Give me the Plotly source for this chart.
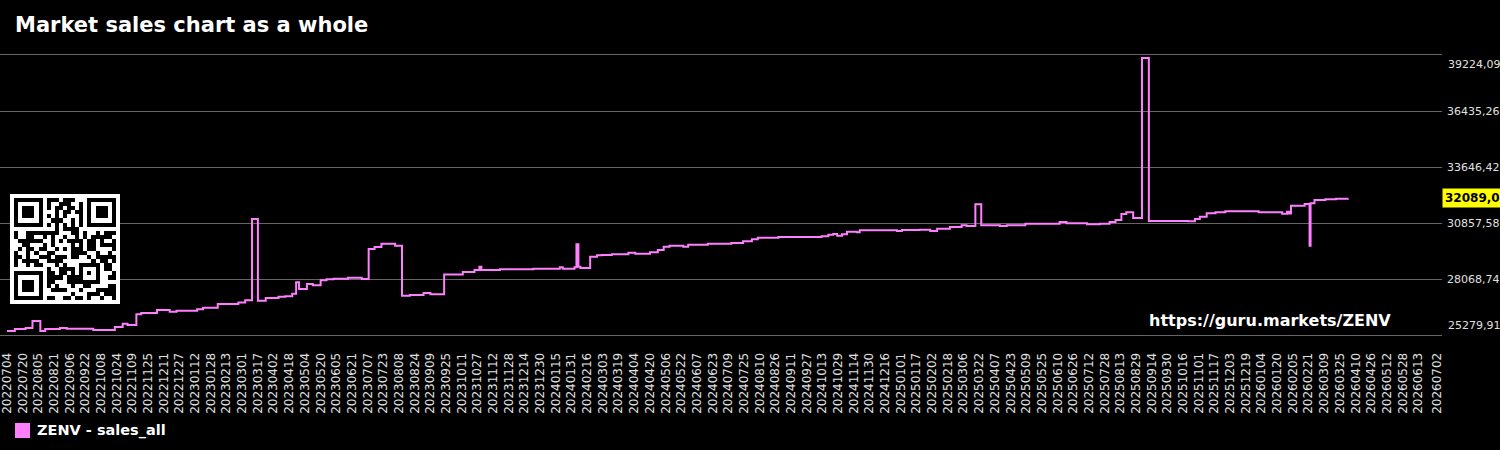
import pandas as pd
import plotly.graph_objects as go

# ---------------- data ----------------
TITLE = "Market sales chart as a whole"
SERIES_NAME = "ZENV - sales_all"
URL_TEXT = "https://guru.markets/ZENV"

dates = [
    "2022-07-04", "2022-07-12", "2022-07-23", "2022-07-30", "2022-08-07", "2022-08-12",
    "2022-08-27", "2022-09-03", "2022-09-30", "2022-10-22", "2022-10-30", "2022-11-04",
    "2022-11-13", "2022-11-18", "2022-12-04", "2022-12-17", "2022-12-24", "2023-01-14",
    "2023-01-20", "2023-02-04", "2023-02-25", "2023-03-04", "2023-03-11", "2023-03-17",
    "2023-03-25", "2023-04-07", "2023-04-14", "2023-04-21", "2023-04-25", "2023-04-28",
    "2023-05-06", "2023-05-12", "2023-05-20", "2023-05-26", "2023-06-02", "2023-06-17",
    "2023-07-01", "2023-07-08", "2023-07-14", "2023-07-21", "2023-08-04", "2023-08-11",
    "2023-08-19", "2023-09-02", "2023-09-09", "2023-09-23", "2023-10-12", "2023-10-24",
    "2023-10-29", "2023-10-31", "2023-11-19", "2023-12-23", "2024-01-19", "2024-01-22",
    "2024-02-03", "2024-02-05", "2024-02-07", "2024-02-09", "2024-02-19", "2024-02-26",
    "2024-03-02", "2024-03-12", "2024-03-29", "2024-04-05", "2024-04-20", "2024-04-28",
    "2024-05-04", "2024-05-10", "2024-05-24", "2024-05-29", "2024-06-18", "2024-07-12",
    "2024-07-24", "2024-08-02", "2024-08-08", "2024-08-29", "2024-10-12", "2024-10-19",
    "2024-10-24", "2024-10-28", "2024-11-02", "2024-11-07", "2024-11-17", "2024-11-20",
    "2024-12-28", "2025-01-02", "2025-01-20", "2025-01-31", "2025-02-07", "2025-02-20",
    "2025-03-04", "2025-03-09", "2025-03-18", "2025-03-24", "2025-04-12", "2025-04-19",
    "2025-05-08", "2025-06-12", "2025-06-19", "2025-07-10", "2025-07-23", "2025-08-02",
    "2025-08-08", "2025-08-14", "2025-08-19", "2025-08-26", "2025-09-04", "2025-09-11",
    "2025-10-21", "2025-10-28", "2025-11-02", "2025-11-09", "2025-11-18", "2025-11-28",
    "2026-01-01", "2026-01-25", "2026-01-30", "2026-02-01", "2026-02-03", "2026-02-17",
    "2026-02-22", "2026-02-23", "2026-02-27", "2026-03-10", "2026-03-21", "2026-04-02",
]
sales = [
    25479, 25579, 25628, 25977, 25479, 25579,
    25628, 25590, 25530, 25678, 25842, 25778,
    26311, 26375, 26525, 26440, 26490, 26560,
    26640, 26824, 26900, 27007, 31057, 26988,
    27122, 27187, 27207, 27337, 27904, 27571,
    27820, 27755, 28004, 28054, 28084, 28133,
    28068, 29563, 29662, 29826, 29727, 27237,
    27272, 27371, 27306, 28290, 28417, 28517,
    28681, 28517, 28550, 28580, 28650, 28580,
    28650, 29797, 28681, 28616, 29179, 29248,
    29260, 29298, 29378, 29328, 29398, 29512,
    29677, 29727, 29677, 29777, 29827, 29862,
    29946, 30045, 30125, 30160, 30195, 30274,
    30309, 30224, 30294, 30424, 30394, 30494,
    30459, 30509, 30524, 30459, 30574, 30658,
    30742, 30708, 31788, 30742, 30708, 30742,
    30822, 30907, 30842, 30792, 30822, 30907,
    31007, 31305, 31390, 31107, 39074, 30960,
    30942, 31057, 31172, 31340, 31390, 31440,
    31390, 31320, 31420, 31330, 31719, 31803,
    29727, 31838, 32002, 32040, 32070, 32089.04,
]

y_ticks = [25279.91, 28068.74, 30857.58, 33646.42, 36435.26, 39224.09]
y_tick_labels = ["25279,91", "28068,74", "30857,58", "33646,42", "36435,26", "39224,09"]

x_first_date = "2022-07-04"
x_last_date = "2026-07-02"
x_tick_dates = list(pd.date_range(x_first_date, "2026-06-13", freq="16D").strftime("%Y-%m-%d")) + [x_last_date]
x_tick_labels = [d.replace("-", "") for d in x_tick_dates]

last_value_label = f"{sales[-1]:.2f}".replace(".", ",")

# ---------------- style ----------------
FONT = "DejaVu Sans"
LINE_COLOR = "#ff80ff"
GRID_COLOR = "#666666"
TICK_COLOR = "#e0e0e0"
W, H = 1500, 450
M_L, M_R, M_T, M_B = 0, 58, 55, 115
PW, PH = W - M_L - M_R, H - M_T - M_B
PX_PER_DAY = 0.9801


def px_x(px):
    return (px - M_L) / PW


def px_y(py):
    return (H - M_B - py) / PH


x_start = pd.Timestamp(x_first_date) - pd.Timedelta(days=7 / PX_PER_DAY)
x_end = pd.Timestamp(x_last_date) + pd.Timedelta(days=5 / PX_PER_DAY)


# ---------------- QR code (version 2, ECC M) ----------------
def qr_matrix(text):
    data = text.encode("utf-8")
    N = 25
    n_data, n_ec = 28, 16
    bits = []

    def add(val, n):
        for i in range(n - 1, -1, -1):
            bits.append((val >> i) & 1)

    add(0b0100, 4)
    add(len(data), 8)
    for b in data:
        add(b, 8)
    cap = n_data * 8
    add(0, min(4, cap - len(bits)))
    while len(bits) % 8:
        bits.append(0)
    cw = [int("".join(map(str, bits[i:i + 8])), 2) for i in range(0, len(bits), 8)]
    pads = [0xEC, 0x11]
    k = 0
    while len(cw) < n_data:
        cw.append(pads[k % 2])
        k += 1

    exp = [0] * 512
    log = [0] * 256
    v = 1
    for i in range(255):
        exp[i] = v
        log[v] = i
        v <<= 1
        if v & 0x100:
            v ^= 0x11D
    for i in range(255, 512):
        exp[i] = exp[i - 255]

    def mul(a, b):
        if a == 0 or b == 0:
            return 0
        return exp[log[a] + log[b]]

    gen = [1]
    for i in range(n_ec):
        new = [0] * (len(gen) + 1)
        for j, g in enumerate(gen):
            new[j] ^= g
            new[j + 1] ^= mul(g, exp[i])
        gen = new
    msg = cw + [0] * n_ec
    for i in range(n_data):
        c = msg[i]
        if c:
            for j in range(1, len(gen)):
                msg[i + j] ^= mul(gen[j], c)
    allcw = cw + msg[n_data:]

    base = [[None] * N for _ in range(N)]

    def finder(r, c):
        for dr in range(-1, 8):
            for dc in range(-1, 8):
                rr, cc = r + dr, c + dc
                if 0 <= rr < N and 0 <= cc < N:
                    inside = 0 <= dr <= 6 and 0 <= dc <= 6
                    dark = inside and (dr in (0, 6) or dc in (0, 6) or (2 <= dr <= 4 and 2 <= dc <= 4))
                    base[rr][cc] = 1 if dark else 0

    finder(0, 0)
    finder(0, N - 7)
    finder(N - 7, 0)
    for i in range(8, N - 8):
        base[6][i] = 1 if i % 2 == 0 else 0
        base[i][6] = 1 if i % 2 == 0 else 0
    for dr in range(-2, 3):
        for dc in range(-2, 3):
            base[18 + dr][18 + dc] = 1 if max(abs(dr), abs(dc)) != 1 else 0
    base[N - 8][8] = 1
    for i in range(9):
        if base[8][i] is None:
            base[8][i] = 0
        if base[i][8] is None:
            base[i][8] = 0
    for i in range(8):
        if base[8][N - 1 - i] is None:
            base[8][N - 1 - i] = 0
        if base[N - 1 - i][8] is None:
            base[N - 1 - i][8] = 0
    reserved = [[base[r][c] is not None for c in range(N)] for r in range(N)]

    dbits = []
    for b in allcw:
        for i in range(7, -1, -1):
            dbits.append((b >> i) & 1)
    dbits += [0] * 7
    idx = 0
    col = N - 1
    upward = True
    while col > 0:
        if col == 6:
            col -= 1
        rows = range(N - 1, -1, -1) if upward else range(N)
        for r in rows:
            for c in (col, col - 1):
                if not reserved[r][c]:
                    base[r][c] = dbits[idx] if idx < len(dbits) else 0
                    idx += 1
        upward = not upward
        col -= 2

    masks = [
        lambda r, c: (r + c) % 2 == 0,
        lambda r, c: r % 2 == 0,
        lambda r, c: c % 3 == 0,
        lambda r, c: (r + c) % 3 == 0,
        lambda r, c: (r // 2 + c // 3) % 2 == 0,
        lambda r, c: (r * c) % 2 + (r * c) % 3 == 0,
        lambda r, c: ((r * c) % 2 + (r * c) % 3) % 2 == 0,
        lambda r, c: ((r + c) % 2 + (r * c) % 3) % 2 == 0,
    ]

    def fmt_bits(mask):
        d = (0 << 3) | mask  # ECC M = 00
        rem = d
        for _ in range(10):
            rem = (rem << 1) ^ ((rem >> 9) * 0x537)
        return ((d << 10) | rem) ^ 0x5412

    def penalty(Mx):
        score = 0
        cols = [list(cc) for cc in zip(*Mx)]
        for lines in (Mx, cols):
            for row in lines:
                run = 1
                for i in range(1, N):
                    if row[i] == row[i - 1]:
                        run += 1
                    else:
                        if run >= 5:
                            score += 3 + run - 5
                        run = 1
                if run >= 5:
                    score += 3 + run - 5
                for i in range(N - 10):
                    seg = row[i:i + 11]
                    if seg == [1, 0, 1, 1, 1, 0, 1, 0, 0, 0, 0] or seg == [0, 0, 0, 0, 1, 0, 1, 1, 1, 0, 1]:
                        score += 40
        for r in range(N - 1):
            for c in range(N - 1):
                if Mx[r][c] == Mx[r][c + 1] == Mx[r + 1][c] == Mx[r + 1][c + 1]:
                    score += 3
        dark = sum(map(sum, Mx))
        score += 10 * (abs(dark * 100 // (N * N) - 50) // 5)
        return score

    best, best_score = None, None
    for m, fn in enumerate(masks):
        Mx = [row[:] for row in base]
        for r in range(N):
            for c in range(N):
                if not reserved[r][c] and fn(r, c):
                    Mx[r][c] ^= 1
        fb = fmt_bits(m)
        bit = lambda i: (fb >> i) & 1
        for i in range(6):
            Mx[i][8] = bit(i)
        Mx[7][8] = bit(6)
        Mx[8][8] = bit(7)
        Mx[8][7] = bit(8)
        for i in range(9, 15):
            Mx[8][14 - i] = bit(i)
        for i in range(8):
            Mx[8][N - 1 - i] = bit(i)
        for i in range(8, 15):
            Mx[N - 15 + i][8] = bit(i)
        Mx[N - 8][8] = 1
        s = penalty(Mx)
        if best_score is None or s < best_score:
            best, best_score = Mx, s
    full = [[0] * (N + 2)] + [[0] + row + [0] for row in best] + [[0] * (N + 2)]
    return full


qr = qr_matrix(URL_TEXT)

# ---------------- figure ----------------
fig = go.Figure()
fig.add_trace(go.Scatter(
    x=dates, y=sales, mode="lines", name=SERIES_NAME,
    line=dict(color=LINE_COLOR, width=2, shape="hv"),
    showlegend=False, xaxis="x", yaxis="y",
))
fig.add_trace(go.Heatmap(
    z=qr, colorscale=[[0, "#ffffff"], [1, "#000000"]], zmin=0, zmax=1,
    showscale=False, hoverinfo="skip", xaxis="x2", yaxis="y2",
))

annotations = [
    dict(xref="paper", yref="y", x=1, y=y_ticks[0], xanchor="left", yanchor="middle",
         xshift=4, yshift=10, text=y_tick_labels[0], showarrow=False,
         font=dict(family=FONT, size=11, color=TICK_COLOR)),
    dict(xref="paper", yref="y", x=1, y=y_ticks[-1], xanchor="left", yanchor="middle",
         xshift=4, yshift=-9, text=y_tick_labels[-1], showarrow=False,
         font=dict(family=FONT, size=11, color=TICK_COLOR)),
    dict(xref="paper", yref="y", x=1, y=sales[-1], xanchor="left", yanchor="middle",
         xshift=0, text="<b>" + last_value_label + "</b>", showarrow=False,
         bgcolor="#ffff00", borderpad=2,
         font=dict(family=FONT, size=12, color="#000000")),
    dict(xref="paper", yref="paper", x=px_x(1269.5), y=px_y(320), xanchor="center", yanchor="middle",
         text="<b>" + URL_TEXT + "</b>", showarrow=False,
         font=dict(family=FONT, size=16, color="#ffffff")),
    dict(xref="paper", yref="paper", x=px_x(35), y=px_y(430.5), xanchor="left", yanchor="middle",
         text="<b>" + SERIES_NAME + "</b>", showarrow=False,
         font=dict(family=FONT, size=14.5, color="#ffffff")),
]

shapes = [
    dict(type="rect", xref="paper", yref="paper",
         x0=px_x(15), x1=px_x(30), y0=px_y(438), y1=px_y(423),
         fillcolor=LINE_COLOR, line=dict(width=0)),
]

fig.update_layout(
    width=W, height=H,
    paper_bgcolor="#000000", plot_bgcolor="#000000",
    margin=dict(l=M_L, r=M_R, t=M_T, b=M_B, pad=0),
    showlegend=False,
    font=dict(family=FONT, color=TICK_COLOR),
    title=dict(text="<b>" + TITLE + "</b>", xref="container", yref="container",
               x=15 / W, xanchor="left", y=1 - 25 / H, yanchor="middle",
               font=dict(family=FONT, size=21, color="#ffffff")),
    xaxis=dict(
        type="date", range=[x_start.strftime("%Y-%m-%d %H:%M:%S"), x_end.strftime("%Y-%m-%d %H:%M:%S")],
        tickvals=x_tick_dates, ticktext=x_tick_labels, tickangle=-90,
        tickfont=dict(family=FONT, size=12, color=TICK_COLOR),
        ticklabeloverflow="allow", ticklabelstandoff=12,
        showgrid=False, zeroline=False, showline=True, mirror=True,
        linecolor=GRID_COLOR, linewidth=1, ticks="", automargin=False,
        fixedrange=True,
    ),
    yaxis=dict(
        side="right", range=[y_ticks[0], y_ticks[-1]],
        tickvals=y_ticks, ticktext=[""] + y_tick_labels[1:-1] + [""],
        tickfont=dict(family=FONT, size=11, color=TICK_COLOR),
        showgrid=True, gridcolor=GRID_COLOR, gridwidth=1,
        zeroline=False, showline=False, ticks="", automargin=False,
        ticklabelstandoff=4, fixedrange=True,
    ),
    xaxis2=dict(domain=[px_x(10), px_x(120)], anchor="y2", visible=False,
                range=[-0.5, len(qr) - 0.5], fixedrange=True),
    yaxis2=dict(domain=[px_y(304), px_y(194)], anchor="x2", visible=False,
                range=[len(qr) - 0.5, -0.5], fixedrange=True),
    annotations=annotations,
    shapes=shapes,
)

fig.write_html("out.html")
